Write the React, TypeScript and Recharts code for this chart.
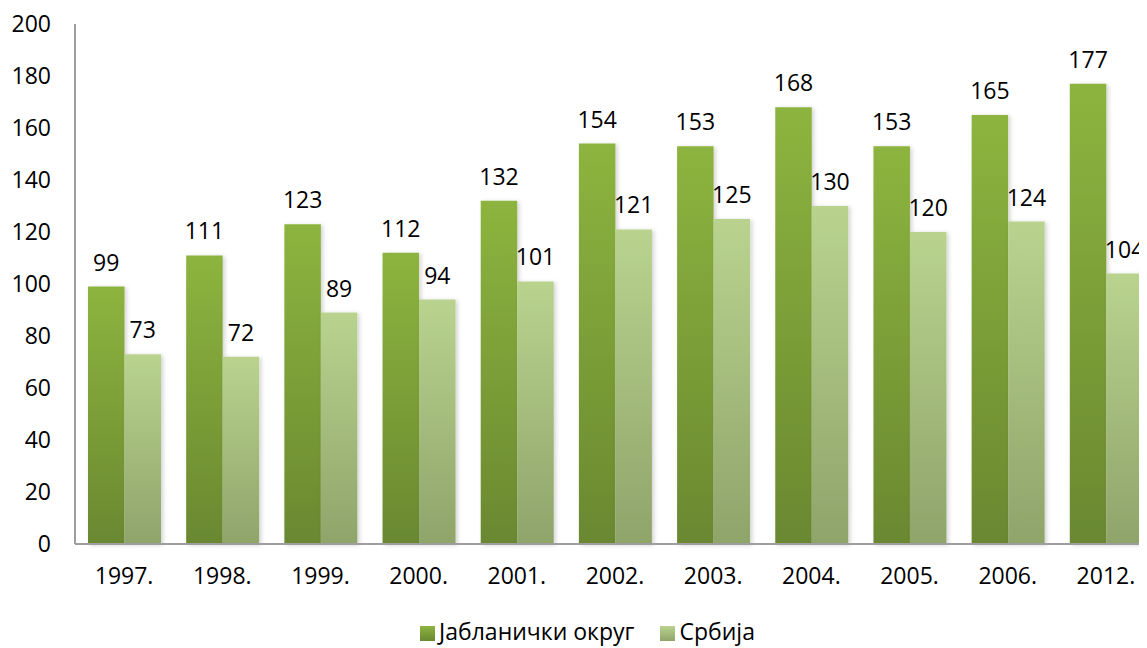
import { BarChart, Bar, XAxis, YAxis, Legend, LabelList } from "recharts";

const years = ["1997.", "1998.", "1999.", "2000.", "2001.", "2002.", "2003.", "2004.", "2005.", "2006.", "2012."];
const jablanicki = [99, 111, 123, 112, 132, 154, 153, 168, 153, 165, 177];
const srbija = [73, 72, 89, 94, 101, 121, 125, 130, 120, 124, 104];
const yTicks = [0, 20, 40, 60, 80, 100, 120, 140, 160, 180, 200];

const data = years.map((year, i) => ({
  year,
  jablanicki: jablanicki[i],
  srbija: srbija[i],
}));

const font = "'Open Sans', sans-serif";

export default function App() {
  return (
    <div style={{ margin: "-8px 0 0 -8px", width: 1147, height: 648, overflow: "hidden", fontFamily: font }}>
      <BarChart
        width={1155}
        height={648}
        data={data}
        margin={{ top: 24, right: 0, bottom: 12, left: 0 }}
        barGap={0}
        barSize={36.5}
      >
        <defs>
          <linearGradient id="gDark" x1="0" y1="0" x2="0" y2="1">
            <stop offset="0%" stopColor="#8db43f" />
            <stop offset="100%" stopColor="#6a8830" />
          </linearGradient>
          <linearGradient id="gLight" x1="0" y1="0" x2="0" y2="1">
            <stop offset="0%" stopColor="#b9d38f" />
            <stop offset="100%" stopColor="#8fa46a" />
          </linearGradient>
          <filter id="shadow" x="-20%" y="-5%" width="150%" height="110%">
            <feDropShadow dx="2" dy="1" stdDeviation="2" floodColor="#000" floodOpacity="0.18" />
          </filter>
        </defs>
        <XAxis
          dataKey="year"
          axisLine={{ stroke: "#9e9e9e", strokeWidth: 2 }}
          tickLine={false}
          tickSize={0}
          tickMargin={24}
          height={60}
          tick={{ fontSize: 23, fill: "#000", fontFamily: font }}
        />
        <YAxis
          domain={[0, 200]}
          ticks={yTicks}
          interval={0}
          width={75}
          axisLine={{ stroke: "#9e9e9e", strokeWidth: 2 }}
          tickLine={false}
          tickSize={0}
          tickMargin={24}
          tick={{ fontSize: 23, fill: "#000", fontFamily: font }}
        />
        <Legend
          verticalAlign="bottom"
          iconType="square"
          iconSize={15}
          wrapperStyle={{ fontSize: 23, fontFamily: font, color: "#000", bottom: 1, paddingLeft: 23 }}
          formatter={(value) => <span style={{ color: "#000", marginRight: 16 }}>{value}</span>}
        />
        <Bar
          dataKey="jablanicki"
          name="Јабланички округ"
          fill="url(#gDark)"
          filter="url(#shadow)"
          isAnimationActive={false}
        >
          <LabelList dataKey="jablanicki" position="top" offset={16} style={{ fontSize: 23, fill: "#000", fontFamily: font }} />
        </Bar>
        <Bar
          dataKey="srbija"
          name="Србија"
          fill="url(#gLight)"
          filter="url(#shadow)"
          isAnimationActive={false}
        >
          <LabelList dataKey="srbija" position="top" offset={16} style={{ fontSize: 23, fill: "#000", fontFamily: font }} />
        </Bar>
      </BarChart>
    </div>
  );
}
